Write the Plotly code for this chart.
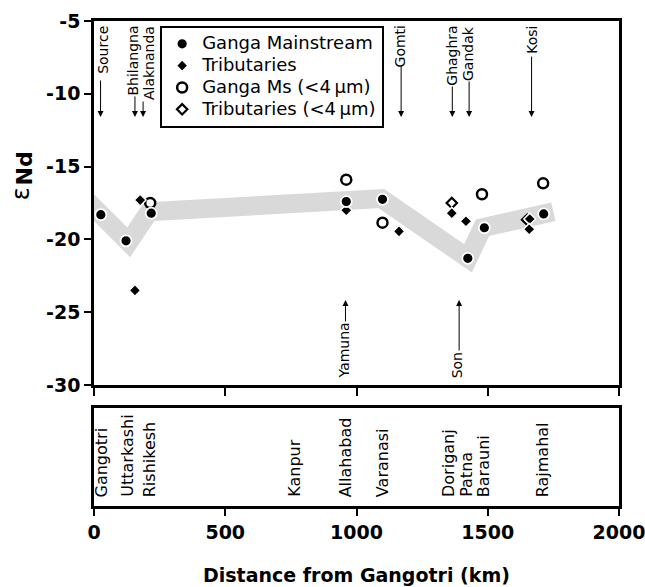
import plotly.graph_objects as go

FONT = "DejaVu Sans"

# ---------------- data ----------------
ms_km = [26, 122, 218, 961, 1099, 1424, 1487, 1713]
ms_end = [-18.3, -20.1, -18.2, -17.4, -17.25, -21.3, -19.2, -18.25]

trib_km = [156, 176, 961, 1162, 1363, 1417, 1660, 1658]
trib_end = [-23.5, -17.3, -18.0, -19.45, -18.2, -18.75, -18.6, -19.3]

ms4_km = [214, 961, 1099, 1478, 1711]
ms4_end = [-17.5, -15.9, -18.85, -16.9, -16.15]

trib4_km = [1363, 1650]
trib4_end = [-17.5, -18.65]

band_km = [-40, 132, 210, 1095, 1425, 1480, 1750]
band_end = [-17.1, -20.2, -18.1, -17.2, -21.3, -19.2, -18.1]

y_ticks = [-5, -10, -15, -20, -25, -30]
y_ticktext = ["-5", "-10", "-15", "-20", "-25", "-30"]
x_ticks = [0, 500, 1000, 1500, 2000]
x_ticktext = ["0", "500", "1000", "1500", "2000"]

series_names = ["Ganga Mainstream", "Tributaries",
                "Ganga Ms (&lt;4\u2009\u03bcm)", "Tributaries (&lt;4\u2009\u03bcm)"]

top_labels = ["Source", "Bhilangna", "Alaknanda", "Gomti", "Ghaghra", "Gandak", "Kosi"]
top_arrow_km = [25, 156, 187, 1170, 1365, 1429, 1667]
top_text_km = [34, 147, 210, 1164, 1363, 1427, 1668]
top_tail_end = [-8.98, -10.08, -10.43, -8.02, -9.4, -9.05, -7.34]
top_tip_end = -11.6
top_text_end = -5.2

bottom_labels = ["Yamuna", "Son"]
bottom_arrow_km = [958, 1391]
bottom_text_km = [954, 1384]
bottom_tail_end = [-25.74, -27.73]
bottom_tip_end = -24.16
bottom_text_end = -29.66

town_labels = ["Gangotri", "Uttarkashi", "Rishikesh", "Kanpur", "Allahabad",
               "Varanasi", "Doriganj", "Patna", "Barauni", "Rajmahal"]
town_km = [28, 128, 210, 766, 957, 1099, 1348, 1418, 1482, 1709]


def legend_name(s):
    return '<span style="font-size:18px">' + s + '</span>'


# ---------------- figure ----------------
fig = go.Figure()

fig.add_trace(go.Scatter(x=band_km, y=band_end, mode="lines",
                         line=dict(color="#d9d9d9", width=19),
                         showlegend=False, hoverinfo="skip",
                         xaxis="x", yaxis="y"))

fig.add_trace(go.Scatter(x=ms4_km, y=ms4_end, mode="markers",
                         name=legend_name(series_names[2]), legendrank=3,
                         marker=dict(symbol="circle", size=10, color="white",
                                     line=dict(color="black", width=2.5))))
fig.add_trace(go.Scatter(x=trib4_km, y=trib4_end, mode="markers",
                         name=legend_name(series_names[3]), legendrank=4,
                         marker=dict(symbol="diamond", size=8, color="white",
                                     line=dict(color="black", width=2.2))))
fig.add_trace(go.Scatter(x=trib_km, y=trib_end, mode="markers",
                         name=legend_name(series_names[1]), legendrank=2,
                         marker=dict(symbol="diamond", size=9, color="black",
                                     line=dict(color="white", width=1.5))))
fig.add_trace(go.Scatter(x=ms_km, y=ms_end, mode="markers",
                         name=legend_name(series_names[0]), legendrank=1,
                         marker=dict(symbol="circle", size=11, color="black",
                                     line=dict(color="white", width=1.8))))

ann = []
# arrows (top)
for k, tail in zip(top_arrow_km, top_tail_end):
    ann.append(dict(x=k, y=top_tip_end, ax=k, ay=tail, xref="x", yref="y",
                    axref="x", ayref="y", text="", showarrow=True,
                    arrowhead=2, arrowsize=1.2, arrowwidth=1, arrowcolor="black"))
for lab, k in zip(top_labels, top_text_km):
    ann.append(dict(x=k, y=top_text_end, xref="x", yref="y", text=lab,
                    textangle=-90, showarrow=False, xanchor="center", yanchor="top",
                    font=dict(family=FONT, size=14, color="black")))
# arrows (bottom)
for k, tail in zip(bottom_arrow_km, bottom_tail_end):
    ann.append(dict(x=k, y=bottom_tip_end, ax=k, ay=tail, xref="x", yref="y",
                    axref="x", ayref="y", text="", showarrow=True,
                    arrowhead=2, arrowsize=1.2, arrowwidth=1, arrowcolor="black"))
for lab, k in zip(bottom_labels, bottom_text_km):
    ann.append(dict(x=k, y=bottom_text_end, xref="x", yref="y", text=lab,
                    textangle=-90, showarrow=False, xanchor="center", yanchor="bottom",
                    font=dict(family=FONT, size=14, color="black")))
# towns (lower panel)
for lab, k in zip(town_labels, town_km):
    ann.append(dict(x=k, y=0.07, xref="x2", yref="y2", text=lab,
                    textangle=-90, showarrow=False, xanchor="center", yanchor="bottom",
                    font=dict(family=FONT, size=16, color="black")))
# y-axis label
ann.append(dict(x=-0.139, y=0.643, xref="paper", yref="paper", text="\u03b5",
                textangle=-90, showarrow=False, xanchor="center", yanchor="middle",
                font=dict(family=FONT, size=24, color="black")))
ann.append(dict(x=-0.1333, y=0.696, xref="paper", yref="paper", text="<b>Nd</b>",
                textangle=-90, showarrow=False, xanchor="center", yanchor="middle",
                font=dict(family=FONT, size=22, color="black")))
# x-axis title
ann.append(dict(x=0.5, y=-0.1423, xref="paper", yref="paper",
                text="<b>Distance from Gangotri (km)</b>", showarrow=False,
                xanchor="center", yanchor="middle",
                font=dict(family=FONT, size=19, color="black")))

axis_common = dict(showline=True, linecolor="black", linewidth=2.5, mirror=True,
                   showgrid=False, zeroline=False, automargin=False)

fig.update_layout(
    width=645, height=587,
    margin=dict(l=94, r=26, t=21, b=81, autoexpand=False),
    paper_bgcolor="white", plot_bgcolor="white",
    font=dict(family=FONT, color="black"),
    xaxis=dict(domain=[0, 1], anchor="y", range=[0, 2000], tickvals=x_ticks,
               showticklabels=False, ticks="outside", ticklen=8, tickwidth=2,
               tickcolor="black", **axis_common),
    yaxis=dict(domain=[0.2495, 1], anchor="x", range=[-30, -5], tickvals=y_ticks,
               ticktext=y_ticktext, ticks="outside", ticklen=7, tickwidth=2,
               tickcolor="black",
               tickfont=dict(family=FONT, size=19, color="black", weight="bold"),
               **axis_common),
    xaxis2=dict(domain=[0, 1], anchor="y2", range=[0, 2000], tickvals=x_ticks,
                ticktext=x_ticktext, ticks="outside", ticklen=7, tickwidth=2,
                tickcolor="black", ticklabeloverflow="allow",
                tickfont=dict(family=FONT, size=19, color="black", weight="bold"),
                **axis_common),
    yaxis2=dict(domain=[0, 0.202], anchor="x2", range=[0, 1], showticklabels=False,
                ticks="", **axis_common),
    legend=dict(x=0.126, y=0.99, xanchor="left", yanchor="top",
                bgcolor="white", bordercolor="black", borderwidth=2,
                font=dict(family=FONT, size=14.5, color="black"),
                itemwidth=30),
    annotations=ann,
)

fig.write_html("out.html")
